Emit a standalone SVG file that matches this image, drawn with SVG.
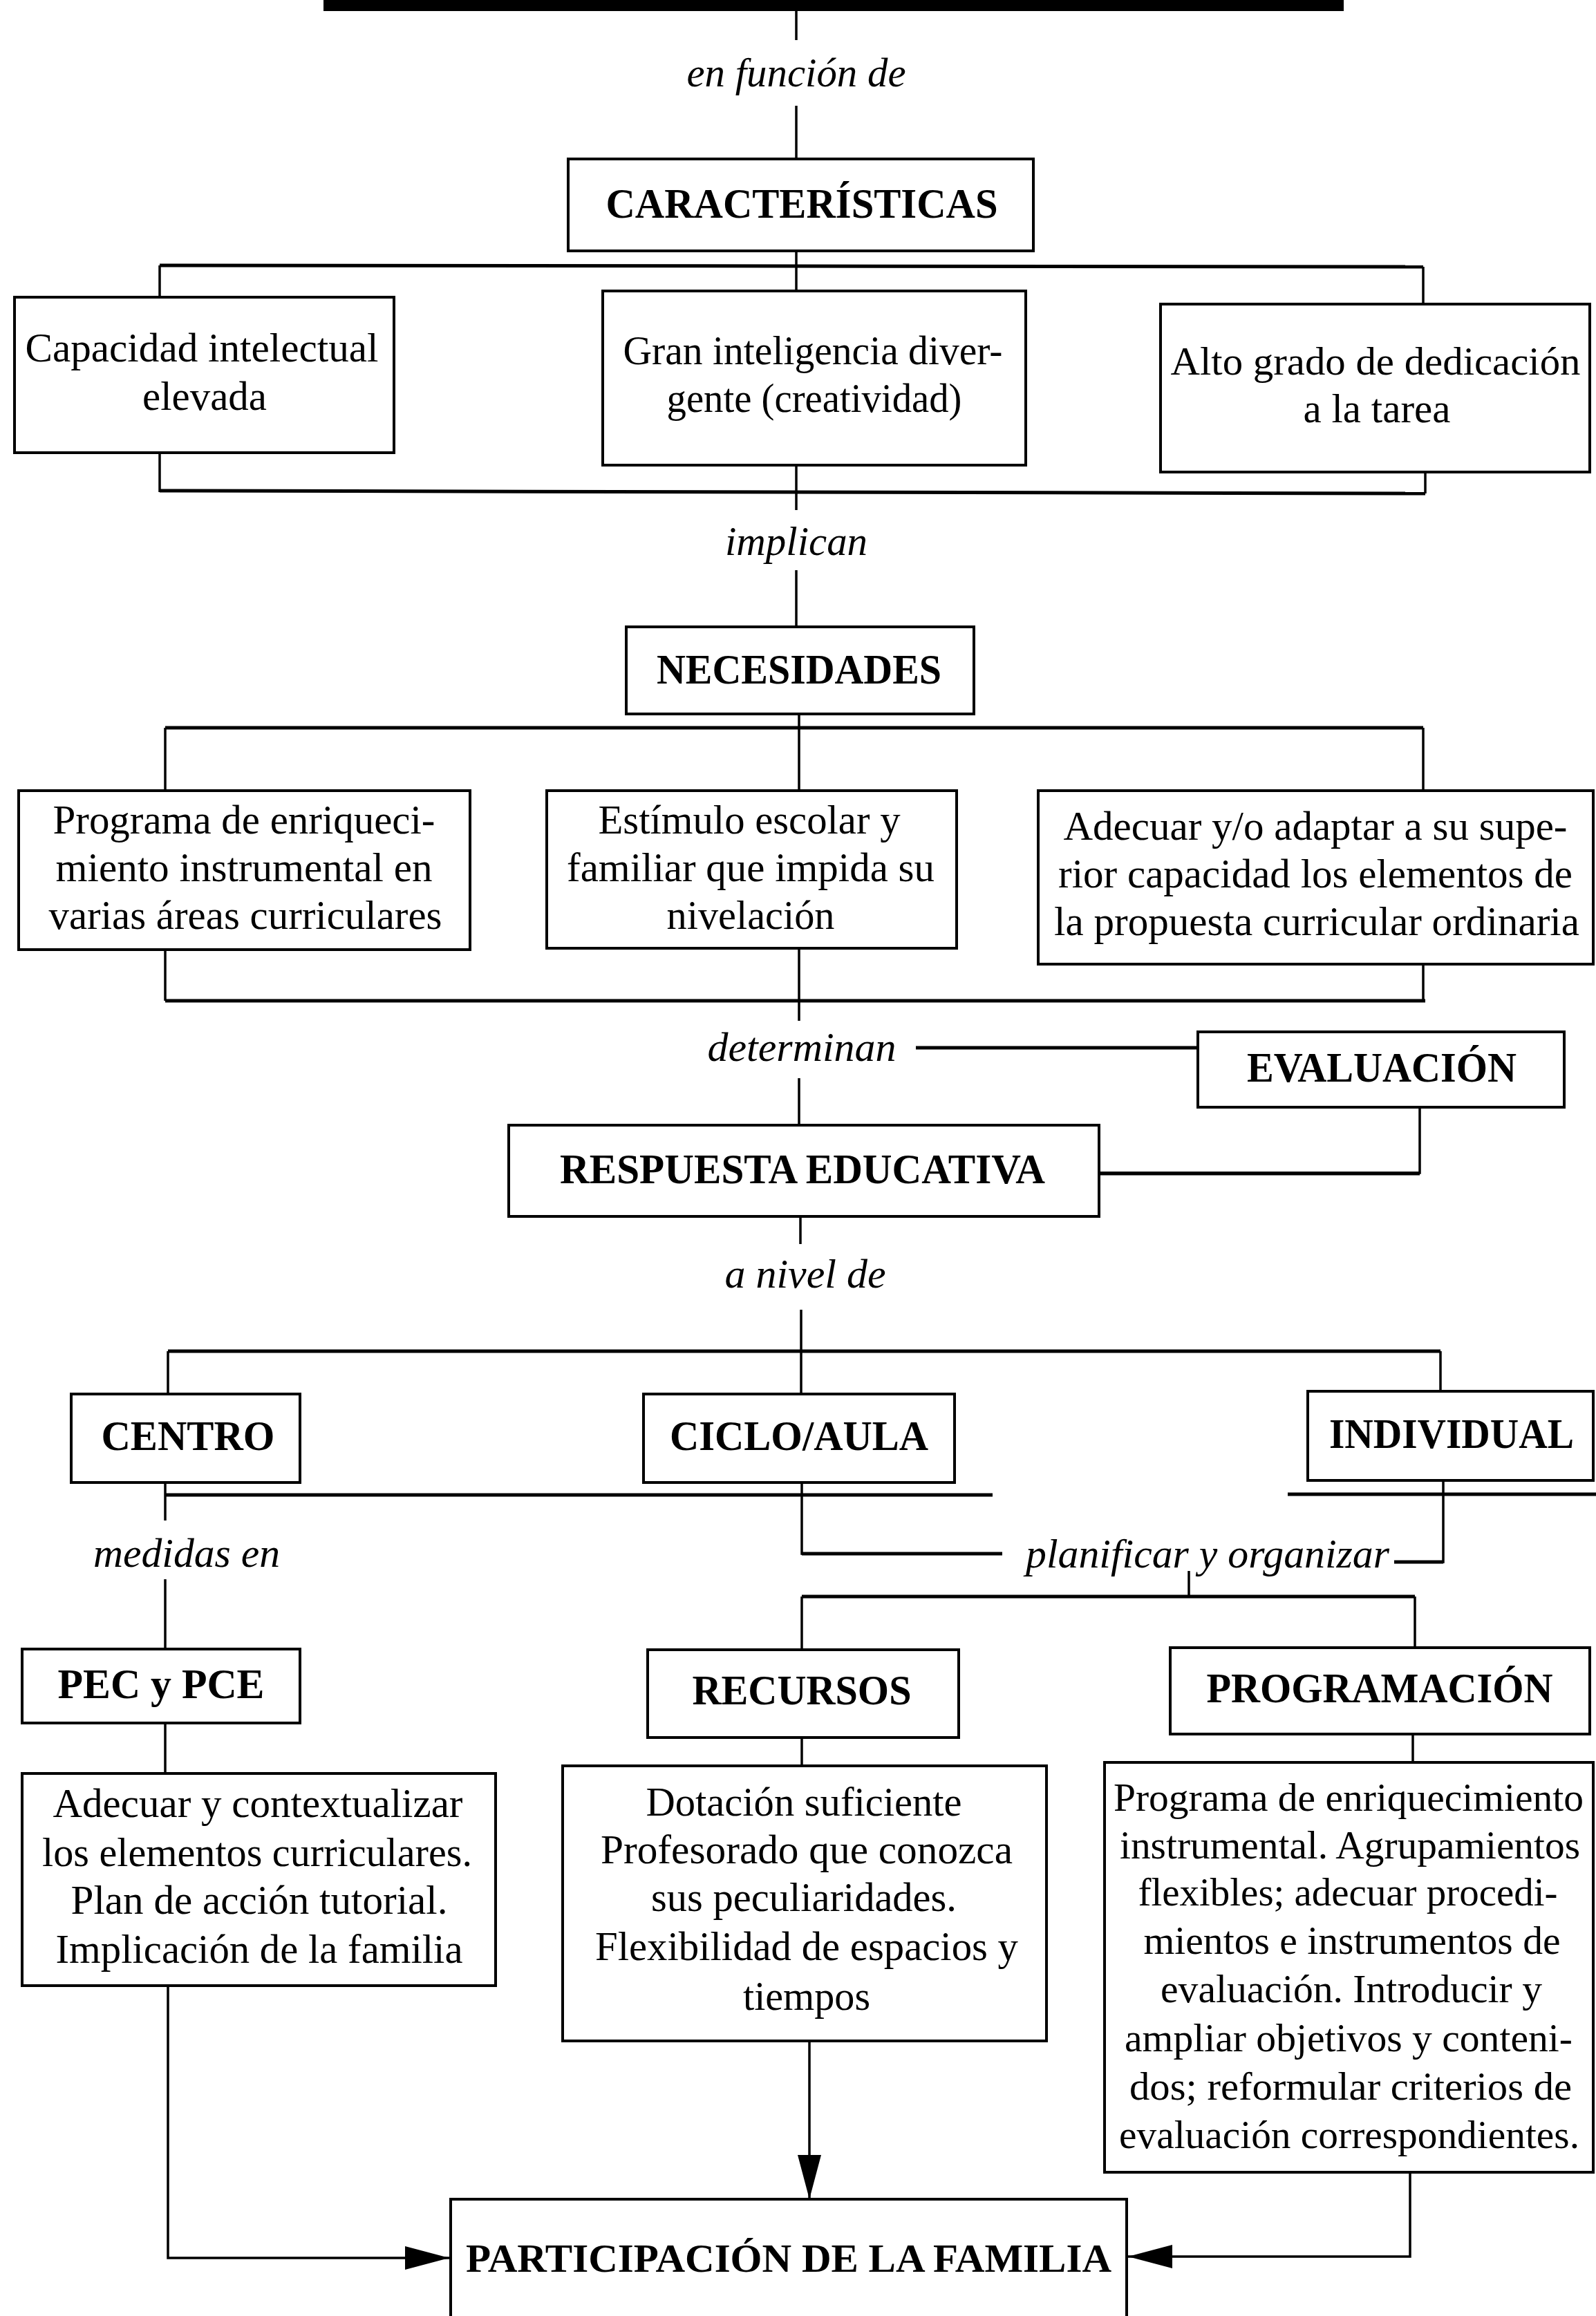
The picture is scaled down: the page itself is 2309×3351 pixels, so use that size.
<svg xmlns="http://www.w3.org/2000/svg" width="2309" height="3351" viewBox="0 0 2309 3351">
<style>
.box{fill:#fff;stroke:#000;stroke-width:4}
.c{fill:none;stroke:#000;stroke-width:3.5}
.h{fill:none;stroke:#000;stroke-width:5}
text{font-family:"Liberation Serif","Times New Roman",serif;fill:#000;text-anchor:middle}
.t{font-size:60px}
.s{font-size:57px}
.b{font-size:62px;font-weight:bold}
.bs{font-size:58px;font-weight:bold}
.i{font-size:60px;font-style:italic}
</style>
<defs>
<marker id="ah" markerUnits="userSpaceOnUse" markerWidth="70" markerHeight="40" refX="64" refY="20" orient="auto" viewBox="0 0 70 40">
<path d="M0,3 L64,20 L0,37 Z" fill="#000"/>
</marker>
</defs>
<rect x="0" y="0" width="2309" height="3351" fill="#fff"/>

<g id="connectors">
<line class="c" x1="1152" y1="14" x2="1152" y2="58"/>
<line class="c" x1="1152" y1="153" x2="1152" y2="230"/>
<line class="c" x1="1152" y1="363" x2="1152" y2="421"/>
<line class="h" x1="231" y1="384" x2="2059" y2="386"/>
<line class="c" x1="231" y1="384" x2="231" y2="430"/>
<line class="c" x1="2059" y1="386" x2="2059" y2="440"/>
<line class="c" x1="231" y1="655" x2="231" y2="712"/>
<line class="c" x1="2062" y1="683" x2="2062" y2="714"/>
<line class="h" x1="231" y1="710" x2="2062" y2="714"/>
<line class="c" x1="1152" y1="673" x2="1152" y2="738"/>
<line class="c" x1="1152" y1="825" x2="1152" y2="907"/>
<line class="c" x1="1156" y1="1033" x2="1156" y2="1144"/>
<line class="h" x1="239" y1="1053" x2="2059" y2="1053"/>
<line class="c" x1="239" y1="1053" x2="239" y2="1144"/>
<line class="c" x1="2059" y1="1053" x2="2059" y2="1144"/>
<line class="c" x1="239" y1="1374" x2="239" y2="1448"/>
<line class="c" x1="2059" y1="1395" x2="2059" y2="1448"/>
<line class="h" x1="239" y1="1448" x2="2062" y2="1448"/>
<line class="c" x1="1156" y1="1372" x2="1156" y2="1477"/>
<line class="h" x1="1325" y1="1516" x2="1733" y2="1516"/>
<line class="c" x1="1156" y1="1560" x2="1156" y2="1628"/>
<polyline class="c" points="2054,1602 2054,1697 1590,1697"/>
<line class="h" x1="1590" y1="1698" x2="2054" y2="1698"/>
<line class="c" x1="1158" y1="1760" x2="1158" y2="1800"/>
<line class="c" x1="1159" y1="1895" x2="1159" y2="2017"/>
<line class="h" x1="243" y1="1955" x2="2084" y2="1955"/>
<line class="c" x1="243" y1="1955" x2="243" y2="2017"/>
<line class="c" x1="2084" y1="1955" x2="2084" y2="2013"/>
<line class="h" x1="239" y1="2163" x2="1436" y2="2163"/>
<line class="h" x1="1863" y1="2162" x2="2309" y2="2162"/>
<line class="c" x1="239" y1="2145" x2="239" y2="2200"/>
<line class="c" x1="239" y1="2285" x2="239" y2="2386"/>
<polyline class="c" points="1160,2145 1160,2248 1450,2248"/>
<line class="h" x1="1160" y1="2248" x2="1450" y2="2248"/>
<polyline class="c" points="2017,2260 2088,2260 2088,2142"/>
<line class="h" x1="2017" y1="2260" x2="2088" y2="2260"/>
<line class="c" x1="1720" y1="2273" x2="1720" y2="2310"/>
<line class="h" x1="1160" y1="2310" x2="2047" y2="2310"/>
<line class="c" x1="1160" y1="2310" x2="1160" y2="2387"/>
<line class="c" x1="2047" y1="2310" x2="2047" y2="2384"/>
<line class="c" x1="239" y1="2493" x2="239" y2="2566"/>
<line class="c" x1="1160" y1="2514" x2="1160" y2="2555"/>
<line class="c" x1="2044" y1="2509" x2="2044" y2="2550"/>
<polyline class="c" points="243,2873 243,3267 650,3267" marker-end="url(#ah)"/>
<line class="c" x1="1171" y1="2953" x2="1171" y2="3182" marker-end="url(#ah)"/>
<polyline class="c" points="2040,3143 2040,3265 1632,3265" marker-end="url(#ah)"/>
</g>

<g id="title-bar"><rect x="468" y="0" width="1476" height="16" fill="#000"/></g>

<g id="lbl-enfuncion"><text class="i" x="1152" y="125" textLength="317" lengthAdjust="spacingAndGlyphs">en función de</text></g>

<g id="n-caracteristicas">
<rect class="box" x="822" y="230" width="673" height="133"/>
<text class="b" x="1160" y="315" textLength="567" lengthAdjust="spacingAndGlyphs">CARACTERÍSTICAS</text>
</g>

<g id="n-capacidad">
<rect class="box" x="21" y="430" width="549" height="225"/>
<text class="t" x="292" y="523" textLength="511" lengthAdjust="spacingAndGlyphs">Capacidad intelectual</text>
<text class="t" x="296" y="593" textLength="180" lengthAdjust="spacingAndGlyphs">elevada</text>
</g>

<g id="n-gran">
<rect class="box" x="872" y="421" width="612" height="252"/>
<text class="t" x="1176" y="527" textLength="549" lengthAdjust="spacingAndGlyphs">Gran inteligencia diver-</text>
<text class="t" x="1178" y="596" textLength="427" lengthAdjust="spacingAndGlyphs">gente (creatividad)</text>
</g>

<g id="n-alto">
<rect class="box" x="1679" y="440" width="621" height="243"/>
<text class="s" x="1990" y="542" textLength="593" lengthAdjust="spacingAndGlyphs">Alto grado de dedicación</text>
<text class="t" x="1992" y="611" textLength="213" lengthAdjust="spacingAndGlyphs">a la tarea</text>
</g>

<g id="lbl-implican"><text class="i" x="1152" y="803" textLength="206" lengthAdjust="spacingAndGlyphs">implican</text></g>

<g id="n-necesidades">
<rect class="box" x="906" y="907" width="503" height="126"/>
<text class="b" x="1156" y="989" textLength="412" lengthAdjust="spacingAndGlyphs">NECESIDADES</text>
</g>

<g id="n-programa">
<rect class="box" x="27" y="1144" width="653" height="230"/>
<text class="t" x="353" y="1206" textLength="553" lengthAdjust="spacingAndGlyphs">Programa de enriqueci-</text>
<text class="t" x="353" y="1275" textLength="545" lengthAdjust="spacingAndGlyphs">miento instrumental en</text>
<text class="t" x="355" y="1344" textLength="569" lengthAdjust="spacingAndGlyphs">varias áreas curriculares</text>
</g>

<g id="n-estimulo">
<rect class="box" x="791" y="1144" width="593" height="228"/>
<text class="t" x="1084" y="1206" textLength="437" lengthAdjust="spacingAndGlyphs">Estímulo escolar y</text>
<text class="t" x="1086" y="1275" textLength="532" lengthAdjust="spacingAndGlyphs">familiar que impida su</text>
<text class="t" x="1086" y="1344" textLength="243" lengthAdjust="spacingAndGlyphs">nivelación</text>
</g>

<g id="n-adecuar">
<rect class="box" x="1502" y="1144" width="803" height="251"/>
<text class="t" x="1903" y="1215" textLength="729" lengthAdjust="spacingAndGlyphs">Adecuar y/o adaptar a su supe-</text>
<text class="t" x="1903" y="1284" textLength="744" lengthAdjust="spacingAndGlyphs">rior capacidad los elementos de</text>
<text class="t" x="1905" y="1353" textLength="760" lengthAdjust="spacingAndGlyphs">la propuesta curricular ordinaria</text>
</g>

<g id="lbl-determinan"><text class="i" x="1160" y="1535" textLength="273" lengthAdjust="spacingAndGlyphs">determinan</text></g>

<g id="n-evaluacion">
<rect class="box" x="1733" y="1493" width="530" height="109"/>
<text class="b" x="1999" y="1565" textLength="390" lengthAdjust="spacingAndGlyphs">EVALUACIÓN</text>
</g>

<g id="n-respuesta">
<rect class="box" x="736" y="1628" width="854" height="132"/>
<text class="b" x="1161" y="1712" textLength="702" lengthAdjust="spacingAndGlyphs">RESPUESTA EDUCATIVA</text>
</g>

<g id="lbl-anivel"><text class="i" x="1165" y="1863" textLength="233" lengthAdjust="spacingAndGlyphs">a nivel de</text></g>

<g id="n-centro">
<rect class="box" x="103" y="2017" width="331" height="128"/>
<text class="b" x="272" y="2098" textLength="251" lengthAdjust="spacingAndGlyphs">CENTRO</text>
</g>

<g id="n-ciclo">
<rect class="box" x="931" y="2017" width="450" height="128"/>
<text class="b" x="1156" y="2098" textLength="374" lengthAdjust="spacingAndGlyphs">CICLO/AULA</text>
</g>

<g id="n-individual">
<rect class="box" x="1892" y="2013" width="413" height="129"/>
<text class="b" x="2100" y="2095" textLength="354" lengthAdjust="spacingAndGlyphs">INDIVIDUAL</text>
</g>

<g id="lbl-medidas"><text class="i" x="270" y="2267" textLength="270" lengthAdjust="spacingAndGlyphs">medidas en</text></g>
<g id="lbl-planificar"><text class="i" x="1747" y="2268" textLength="526" lengthAdjust="spacingAndGlyphs">planificar y organizar</text></g>

<g id="n-pec">
<rect class="box" x="32" y="2386" width="402" height="107"/>
<text class="b" x="233" y="2457" textLength="299" lengthAdjust="spacingAndGlyphs">PEC y PCE</text>
</g>

<g id="n-recursos">
<rect class="box" x="937" y="2387" width="450" height="127"/>
<text class="b" x="1160" y="2466" textLength="317" lengthAdjust="spacingAndGlyphs">RECURSOS</text>
</g>

<g id="n-programacion">
<rect class="box" x="1693" y="2384" width="607" height="125"/>
<text class="b" x="1996" y="2463" textLength="501" lengthAdjust="spacingAndGlyphs">PROGRAMACIÓN</text>
</g>

<g id="n-centro-detalle">
<rect class="box" x="32" y="2566" width="685" height="307"/>
<text class="t" x="373" y="2629" textLength="593" lengthAdjust="spacingAndGlyphs">Adecuar y contextualizar</text>
<text class="t" x="372" y="2700" textLength="622" lengthAdjust="spacingAndGlyphs">los elementos curriculares.</text>
<text class="t" x="375" y="2769" textLength="545" lengthAdjust="spacingAndGlyphs">Plan de acción tutorial.</text>
<text class="t" x="375" y="2840" textLength="589" lengthAdjust="spacingAndGlyphs">Implicación de la familia</text>
</g>

<g id="n-recursos-detalle">
<rect class="box" x="814" y="2555" width="700" height="398"/>
<text class="t" x="1163" y="2627" textLength="457" lengthAdjust="spacingAndGlyphs">Dotación suficiente</text>
<text class="t" x="1167" y="2696" textLength="596" lengthAdjust="spacingAndGlyphs">Profesorado que conozca</text>
<text class="t" x="1163" y="2765" textLength="442" lengthAdjust="spacingAndGlyphs">sus peculiaridades.</text>
<text class="t" x="1167" y="2836" textLength="612" lengthAdjust="spacingAndGlyphs">Flexibilidad de espacios y</text>
<text class="t" x="1167" y="2908" textLength="184" lengthAdjust="spacingAndGlyphs">tiempos</text>
</g>

<g id="n-programacion-detalle">
<rect class="box" x="1598" y="2550" width="707" height="593"/>
<text class="s" x="1951" y="2620" textLength="680" lengthAdjust="spacingAndGlyphs">Programa de enriquecimiento</text>
<text class="s" x="1953" y="2689" textLength="666" lengthAdjust="spacingAndGlyphs">instrumental. Agrupamientos</text>
<text class="s" x="1950" y="2757" textLength="607" lengthAdjust="spacingAndGlyphs">flexibles; adecuar procedi-</text>
<text class="s" x="1956" y="2827" textLength="603" lengthAdjust="spacingAndGlyphs">mientos e instrumentos de</text>
<text class="s" x="1955" y="2897" textLength="552" lengthAdjust="spacingAndGlyphs">evaluación. Introducir y</text>
<text class="s" x="1951" y="2968" textLength="648" lengthAdjust="spacingAndGlyphs">ampliar objetivos y conteni-</text>
<text class="s" x="1954" y="3038" textLength="640" lengthAdjust="spacingAndGlyphs">dos; reformular criterios de</text>
<text class="s" x="1952" y="3108" textLength="666" lengthAdjust="spacingAndGlyphs">evaluación correspondientes.</text>
</g>

<g id="n-participacion">
<rect class="box" x="652" y="3182" width="978" height="200"/>
<text class="bs" x="1141" y="3287" textLength="934" lengthAdjust="spacingAndGlyphs">PARTICIPACIÓN DE LA FAMILIA</text>
</g>
</svg>
